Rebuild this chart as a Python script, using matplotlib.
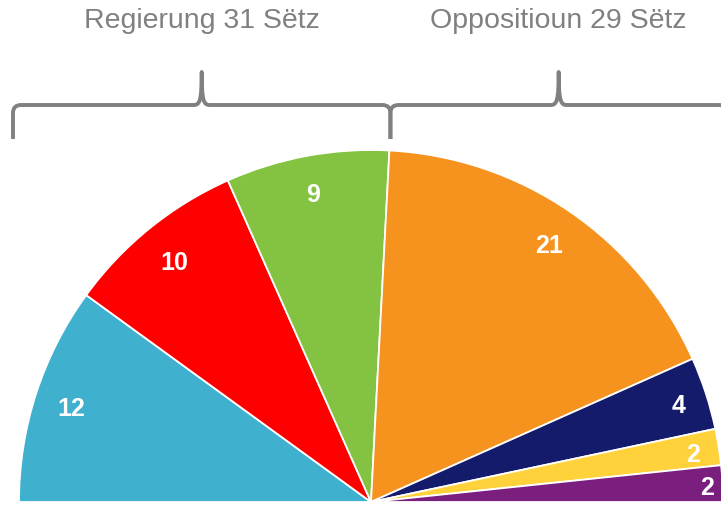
import matplotlib.pyplot as plt
import numpy as np
from matplotlib.path import Path
from matplotlib.patches import PathPatch

# seats per party, left to right round the half circle
parties = ['CSV', 'DP', 'déi gréng', 'LSAP', 'ADR', 'déi Lénk', 'Piraten']
seats = [12, 10, 9, 21, 4, 2, 2]
colors = ['#3FB0CD', '#FF0000', '#84C341', '#F6921E', '#141B6B', '#FFD23C', '#7B1F7F']
groups = ['Regierung 31 Sëtz', 'Oppositioun 29 Sëtz']
group_sizes = [3, 4]  # number of parties in each group

W, H = 721, 506
cx, cy, R = 371, H - 503, 352  # pie centre / radius in pixels
label_r = [0.895, 0.89, 0.9, 0.895, 0.92, 0.925, 0.955]
grey = '#808080'

fig = plt.figure(figsize=(W / 100, H / 100), dpi=100)
ax = fig.add_axes([0, 0, 1, 1])

total = sum(seats)
wedges, _ = ax.pie(seats + [total], colors=colors + ['none'], startangle=180,
                   counterclock=False, center=(cx, cy), radius=R,
                   wedgeprops=dict(edgecolor='white', linewidth=1.3))
wedges[-1].set_edgecolor('none')

# seat numbers inside the wedges
for w, n, lr in zip(wedges[:-1], seats, label_r):
    mid = np.deg2rad((w.theta1 + w.theta2) / 2)
    ax.text(cx + lr * R * np.cos(mid), cy + lr * R * np.sin(mid) - 3, str(n),
            ha='center', va='center', color='white', fontsize=18,
            fontweight='bold', family='Liberation Sans')


def brace(x0, x1, y_line=H - 106, y_end=H - 140, y_tip=H - 73, rad=8):
    xm = (x0 + x1) / 2
    verts = [(x0, y_end), (x0, y_line - rad), (x0, y_line), (x0 + rad, y_line),
             (xm - rad, y_line), (xm - 2, y_line), (xm, y_line + 4), (xm, y_tip),
             (xm, y_line + 4), (xm + 2, y_line), (xm + rad, y_line),
             (x1 - rad, y_line), (x1, y_line), (x1, y_line - rad), (x1, y_end)]
    codes = [Path.MOVETO, Path.LINETO, Path.CURVE3, Path.CURVE3,
             Path.LINETO, Path.CURVE4, Path.CURVE4, Path.CURVE4,
             Path.CURVE4, Path.CURVE4, Path.CURVE4,
             Path.LINETO, Path.CURVE3, Path.CURVE3, Path.LINETO]
    ax.add_patch(PathPatch(Path(verts, codes), fill=False, edgecolor=grey,
                           linewidth=2.8, capstyle='butt', joinstyle='round'))
    return xm


# brace ends: left pie edge, the government/opposition split, right pie edge
split = np.deg2rad(180 - 180 * sum(seats[:group_sizes[0]]) / total)
edges = [cx - R - 6, cx + R * np.cos(split) + 1, cx + R + 4]
for i, label in enumerate(groups):
    xm = brace(edges[i], edges[i + 1])
    ax.text(xm, H - 28, label, ha='center', va='baseline', color=grey,
            fontsize=20.5, family='Liberation Sans')

ax.set_xlim(0, W)
ax.set_ylim(0, H)
ax.axis('off')
fig.savefig('out.png', dpi=100)
